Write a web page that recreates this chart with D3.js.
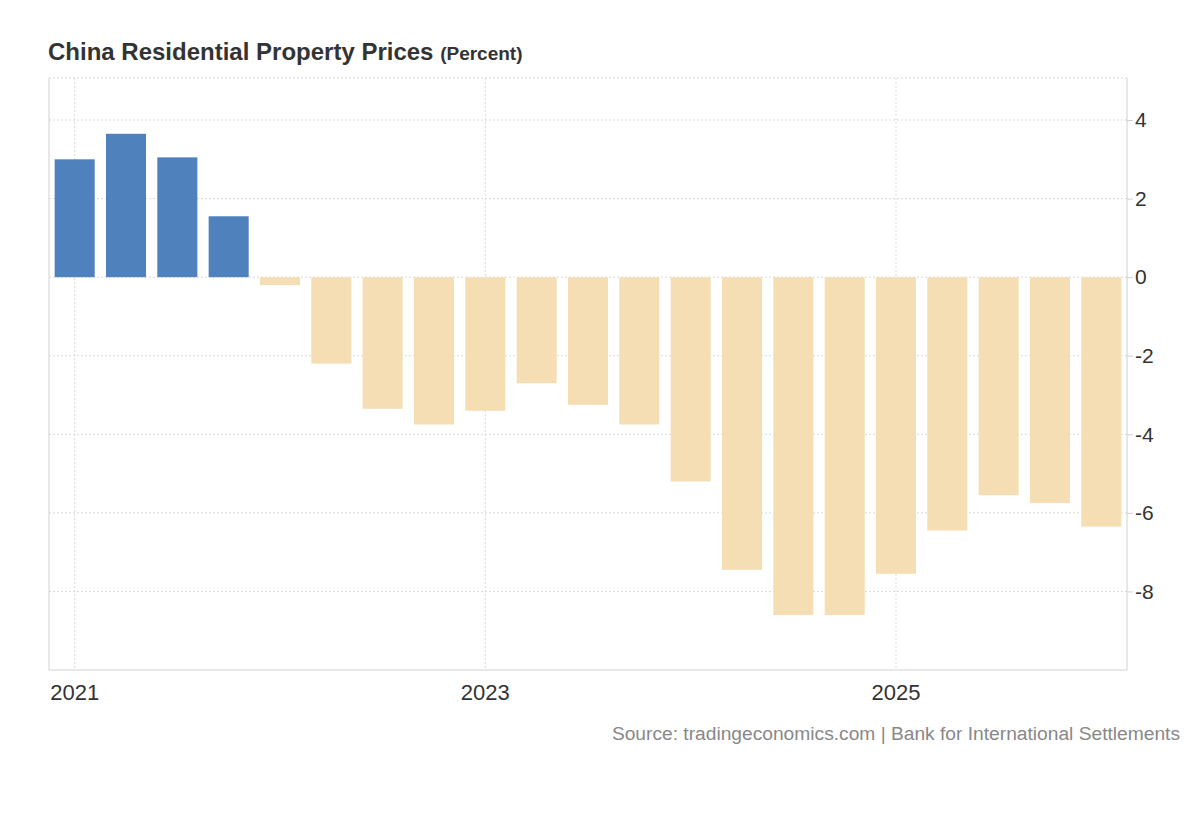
<!DOCTYPE html>
<html><head><meta charset="utf-8">
<script src="https://cdn.jsdelivr.net/npm/d3@7"></script>
<style>body{margin:0;background:#fff;font-family:Arial,"Liberation Sans",sans-serif}</style>
</head><body><svg id="c" width="1200" height="820"></svg>
<script>
const quarters = ["2021Q1","2021Q2","2021Q3","2021Q4","2022Q1","2022Q2","2022Q3","2022Q4","2023Q1","2023Q2","2023Q3","2023Q4","2024Q1","2024Q2","2024Q3","2024Q4","2025Q1","2025Q2","2025Q3","2025Q4","2026Q1"];
const values = [3.0,3.65,3.05,1.55,-0.2,-2.2,-3.35,-3.75,-3.4,-2.7,-3.25,-3.75,-5.2,-7.45,-8.6,-8.6,-7.55,-6.45,-5.55,-5.75,-6.35];
const yTicks = [-8,-6,-4,-2,0,2,4];
const yearTicks = ["2021Q1","2023Q1","2025Q1"];
const yearLabels = ["2021","2023","2025"];

const svg = d3.select("#c");
const L=49,R=1127,T=78,B=670;
const x = d3.scaleBand().domain(quarters).range([L,R]).paddingInner(0.22).paddingOuter(0.11);
const y = d3.scaleLinear().domain([-10,5.07]).range([B,T]);

svg.append("g").selectAll("line").data(yTicks.concat([5.07])).join("line")
  .attr("x1",L).attr("x2",R).attr("y1",d=>y(d)).attr("y2",d=>y(d))
  .attr("stroke","#d9d9d9").attr("stroke-dasharray","2,2");
svg.append("g").selectAll("line").data(yearTicks).join("line")
  .attr("x1",d=>x(d)+x.bandwidth()/2).attr("x2",d=>x(d)+x.bandwidth()/2).attr("y1",T).attr("y2",B)
  .attr("stroke","#d9d9d9").attr("stroke-dasharray","2,2");

svg.append("g").selectAll("rect").data(values).join("rect")
  .attr("x",(d,i)=>x(quarters[i])).attr("width",x.bandwidth())
  .attr("y",d=>y(Math.max(0,d))).attr("height",d=>Math.abs(y(d)-y(0)))
  .attr("fill",d=>d>=0?"#4f81bd":"#f5deb3");

svg.append("line").attr("x1",L).attr("x2",L).attr("y1",T).attr("y2",B).attr("stroke","#d0d0d0");
svg.append("line").attr("x1",L).attr("x2",R).attr("y1",B).attr("y2",B).attr("stroke","#d0d0d0");

const ya = svg.append("g").attr("transform",`translate(${R},0)`)
  .call(d3.axisRight(y).tickValues(yTicks).tickFormat(d=>String(d)));
ya.select(".domain").attr("stroke","#d0d0d0").attr("d",`M0,${T}V${B}`);
ya.selectAll(".tick line").attr("stroke","#d0d0d0").attr("x2",6);
ya.selectAll(".tick text").attr("x",8).attr("font-size",21).attr("fill","#333").attr("font-family","Arial,'Liberation Sans',sans-serif");

svg.append("g").selectAll("text").data(yearTicks).join("text")
  .attr("x",d=>x(d)+x.bandwidth()/2).attr("y",700).attr("text-anchor","middle")
  .attr("font-size",22).attr("fill","#333").text((d,i)=>yearLabels[i]);

const t = svg.append("text").attr("x",48).attr("y",60).attr("fill","#333").attr("font-weight","bold");
t.append("tspan").attr("font-size",24).text("China Residential Property Prices ");
t.append("tspan").attr("font-size",19).text("(Percent)");

svg.append("text").attr("x",1180).attr("y",740).attr("text-anchor","end").attr("font-size",19.2)
  .attr("fill","#888").text("Source: tradingeconomics.com | Bank for International Settlements");
</script></body></html>
